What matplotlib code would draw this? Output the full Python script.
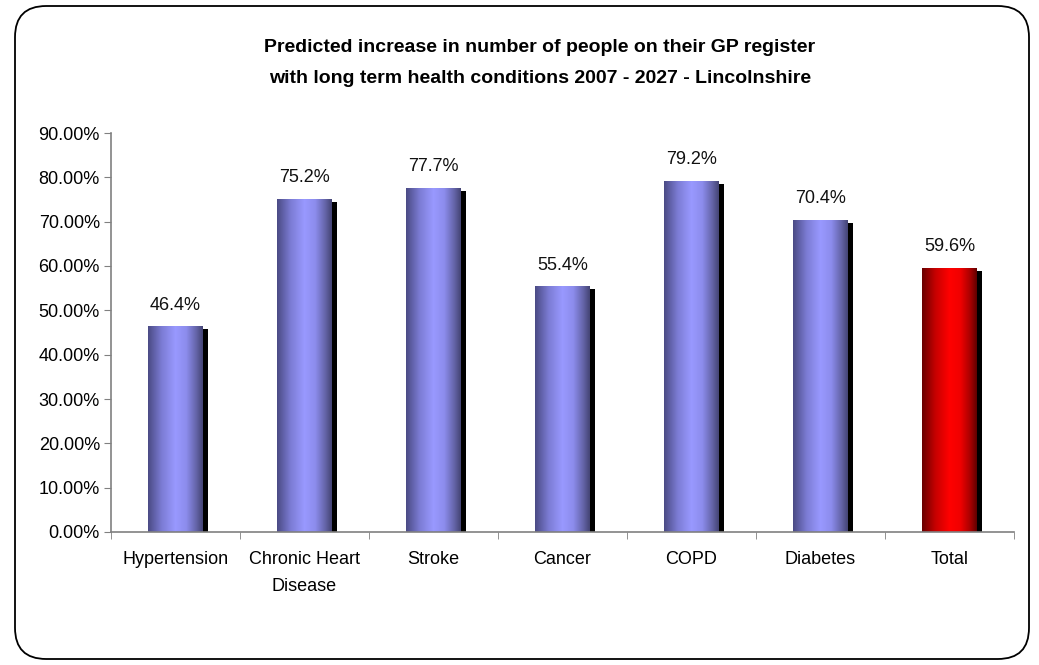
import numpy as np
import matplotlib
matplotlib.use("Agg")
import matplotlib.pyplot as plt
import matplotlib.transforms as mtransforms
from matplotlib.patches import FancyBboxPatch
from matplotlib.colors import LinearSegmentedColormap
from matplotlib.ticker import FixedLocator, PercentFormatter

plt.rcParams['font.family'] = ['Liberation Sans', 'DejaVu Sans']

categories = ["Hypertension", "Chronic Heart\nDisease", "Stroke", "Cancer", "COPD", "Diabetes", "Total"]
values = [46.4, 75.2, 77.7, 55.4, 79.2, 70.4, 59.6]
highlight = ["blue", "blue", "blue", "blue", "blue", "blue", "red"]
title = "Predicted increase in number of people on their GP register\nwith long term health conditions 2007 - 2027 - Lincolnshire"

fig = plt.figure(figsize=(10.39, 6.65), dpi=100)
fig.patch.set_facecolor("white")

# rounded outer frame
frame = FancyBboxPatch((15 / 1039, 6 / 665), 1014 / 1039, 653 / 665,
                       boxstyle="round,pad=0,rounding_size=0.03",
                       transform=fig.transFigure, facecolor="none",
                       edgecolor="black", linewidth=1.3, mutation_aspect=1039 / 665,
                       zorder=-1)
fig.patches.append(frame)

ax = fig.add_axes([111 / 1039, 1 - 532 / 665, 903 / 1039, 399 / 665])
ax.set_facecolor("none")

x = np.arange(len(categories))
width = 0.42

# horizontal shading across each bar: dark edges, bright centre
cmaps = {
    "blue": LinearSegmentedColormap.from_list(
        "b", [(0.0, "#4a4a84"), (0.25, "#7c7cd4"), (0.5, "#9999ff"),
              (0.7, "#8c8cec"), (0.88, "#6464a8"), (1.0, "#444474")]),
    "red": LinearSegmentedColormap.from_list(
        "r", [(0.0, "#6a0000"), (0.25, "#c80000"), (0.5, "#ff0000"),
              (0.7, "#f00000"), (0.88, "#a80000"), (1.0, "#600000")]),
}

shadow_tf = mtransforms.offset_copy(ax.transData, fig=fig, x=5, y=-3, units="dots")
for xi, v, c in zip(x, values, highlight):
    ax.bar(xi, v, width, color="black", transform=shadow_tf, zorder=1, linewidth=0)
    bar = ax.bar(xi, v, width, color="none", zorder=2, linewidth=0)[0]
    grad = np.linspace(0, 1, 256).reshape(1, -1)
    im = ax.imshow(grad, cmap=cmaps[c], aspect="auto",
                   extent=(xi - width / 2, xi + width / 2, 0, v), zorder=2)
    im.set_clip_path(bar)
    ax.annotate(f"{v:.1f}%", (xi, v), xytext=(0, 9), textcoords="offset points",
                ha="center", va="bottom", fontsize=13, color="#111111")

ax.set_xlim(-0.5, len(categories) - 0.5)
ax.set_ylim(0, 90)

ax.yaxis.set_major_locator(FixedLocator(np.arange(0, 91, 10)))
ax.yaxis.set_major_formatter(PercentFormatter(decimals=2))
ax.set_xticks(x)
ax.set_xticklabels(categories, fontsize=13, linespacing=1.75)
ax.set_xticks(np.arange(-0.5, len(categories), 1), minor=True)
ax.tick_params(axis="x", which="major", length=0, pad=14)
ax.tick_params(axis="x", which="minor", length=5, color="#808080", direction="out")
ax.tick_params(axis="y", length=5, color="#808080", direction="out", labelsize=13, pad=3)

for s in ["top", "right"]:
    ax.spines[s].set_visible(False)
for s in ["left", "bottom"]:
    ax.spines[s].set_color("#808080")
    ax.spines[s].set_linewidth(1.2)

fig.text(540 / 1039, 1 - 63 / 665, title, ha="center", va="center", fontsize=14,
         fontweight="bold", linespacing=2.05)

fig.savefig("out.png", dpi=100, facecolor="white")
